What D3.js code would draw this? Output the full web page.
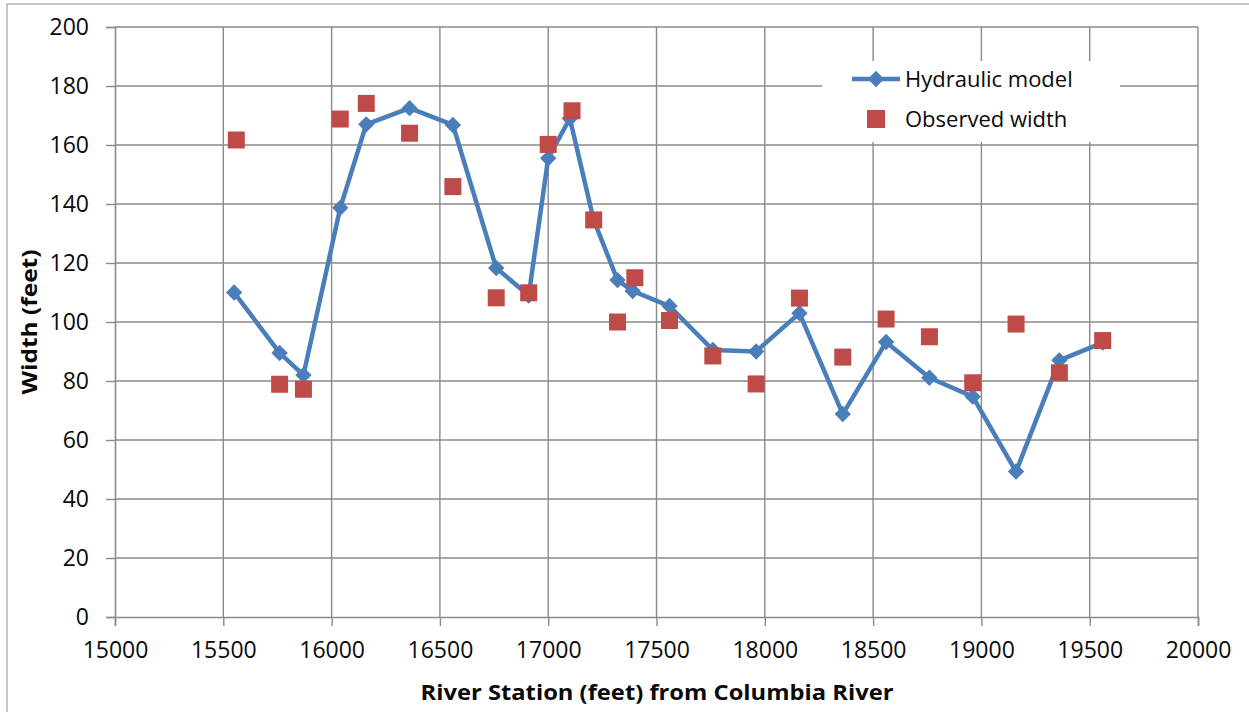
<!DOCTYPE html>
<html><head><meta charset="utf-8">
<script src="https://cdn.jsdelivr.net/npm/d3@7"></script>
<style>body{margin:0;background:#fff}svg{display:block}</style>
</head><body>
<svg id="c" width="1249" height="712"></svg>
<script>
const xTicks = [15000,15500,16000,16500,17000,17500,18000,18500,19000,19500,20000];
const yTicks = [0,20,40,60,80,100,120,140,160,180,200];
const modelX = [15550,15760,15870,16040,16160,16360,16560,16760,16910,17000,17100,17210,17320,17390,17560,17760,17960,18160,18360,18560,18760,18960,19160,19360,19560];
const modelY = [110,89.5,82,138.7,167,172.5,166.8,118.3,109,155.5,169,134.6,114.2,110.5,105.4,90.5,90,103,68.8,93.2,81.1,74.7,49.3,87,93];
const obsX = [15560,15760,15870,16040,16160,16360,16560,16760,16910,17000,17110,17210,17320,17400,17560,17760,17960,18160,18360,18560,18760,18960,19160,19360,19560];
const obsY = [161.7,78.9,77.2,168.8,174.1,164,145.9,108.2,109.9,160.2,171.6,134.6,100,115,100.5,88.5,79,108.1,88.1,101,95,79.4,99.3,82.8,93.7];
const seriesNames = ["Hydraulic model","Observed width"];
const xTitle = "River Station (feet) from Columbia River";
const yTitle = "Width (feet)";

const blue = "#4A7EBB", red = "#BE4B48", grid = "#8a8a8a";
const font = "'Open Sans', 'Noto Sans', sans-serif";
const svg = d3.select("#c");
const x = d3.scaleLinear().domain([15000,20000]).range([115,1198]);
const y = d3.scaleLinear().domain([0,200]).range([617,27]);

// outer border
svg.append("rect").attr("x",7).attr("y",4).attr("width",1260).attr("height",720)
  .attr("fill","none").attr("stroke","#a6a6a6").attr("stroke-width",1.3);

// gridlines
const g = svg.append("g");
g.selectAll(".vg").data(xTicks.slice(1)).join("line")
  .attr("x1",d=>x(d)).attr("x2",d=>x(d)).attr("y1",y(200)).attr("y2",y(0))
  .attr("stroke",grid).attr("stroke-width",1.4);
g.selectAll(".hg").data(yTicks.slice(1)).join("line")
  .attr("x1",x(15000)).attr("x2",x(20000)).attr("y1",d=>y(d)).attr("y2",d=>y(d))
  .attr("stroke",grid).attr("stroke-width",1.4);

// axes
const xa = svg.append("g").attr("transform",`translate(0,${y(0)})`)
  .call(d3.axisBottom(x).tickValues(xTicks).tickSize(9).tickPadding(16).tickFormat(d3.format("d")));
const ya = svg.append("g").attr("transform",`translate(${x(15000)},0)`)
  .call(d3.axisLeft(y).tickValues(yTicks).tickSize(9).tickPadding(17).tickFormat(d3.format("d")));
[xa,ya].forEach(a=>{
  a.select(".domain").attr("stroke",grid).attr("stroke-width",1.6);
  a.selectAll(".tick line").attr("stroke",grid).attr("stroke-width",1.4);
  a.selectAll("text").attr("font-family",font).attr("font-size",23).attr("fill","#0a0a0a");
});

// legend background
svg.append("rect").attr("x",822).attr("y",61).attr("width",298).attr("height",81).attr("fill","#fff");

// model line
svg.append("path").datum(modelX.map((d,i)=>[d,modelY[i]]))
  .attr("d",d3.line().x(d=>x(d[0])).y(d=>y(d[1])))
  .attr("fill","none").attr("stroke",blue).attr("stroke-width",4.5).attr("stroke-linejoin","round");
const r = 8.2;
const diamond = `M0,${-r}L${r},0L0,${r}L${-r},0Z`;
svg.selectAll(".dm").data(modelX.map((d,i)=>[d,modelY[i]])).join("path")
  .attr("d",diamond).attr("transform",d=>`translate(${x(d[0])},${y(d[1])})`).attr("fill",blue);

// observed squares
const s = 17;
svg.selectAll(".sq").data(obsX.map((d,i)=>[d,obsY[i]])).join("rect")
  .attr("x",d=>x(d[0])-s/2).attr("y",d=>y(d[1])-s/2).attr("width",s).attr("height",s).attr("fill",red);

// legend
const lg = svg.append("g");
lg.append("line").attr("x1",852).attr("x2",900).attr("y1",79).attr("y2",79).attr("stroke",blue).attr("stroke-width",4.5);
lg.append("path").attr("d",diamond).attr("transform","translate(876,79)").attr("fill",blue);
lg.append("rect").attr("x",867).attr("y",110).attr("width",18).attr("height",18).attr("fill",red);
lg.selectAll("text").data(seriesNames).join("text")
  .attr("x",905).attr("y",(d,i)=>87+i*40).text(d=>d)
  .attr("font-family",font).attr("font-size",22).attr("fill","#0a0a0a");

// titles
svg.append("text").attr("x",657).attr("y",700).attr("text-anchor","middle")
  .attr("font-family",font).attr("font-weight","bold").attr("font-size",21)
  .attr("textLength",473).attr("lengthAdjust","spacingAndGlyphs").attr("fill","#0a0a0a").text(xTitle);
svg.append("text").attr("transform","translate(37,322) rotate(-90)").attr("text-anchor","middle")
  .attr("font-family",font).attr("font-weight","bold").attr("font-size",21)
  .attr("textLength",145).attr("lengthAdjust","spacingAndGlyphs").attr("fill","#0a0a0a").text(yTitle);
</script>
</body></html>
